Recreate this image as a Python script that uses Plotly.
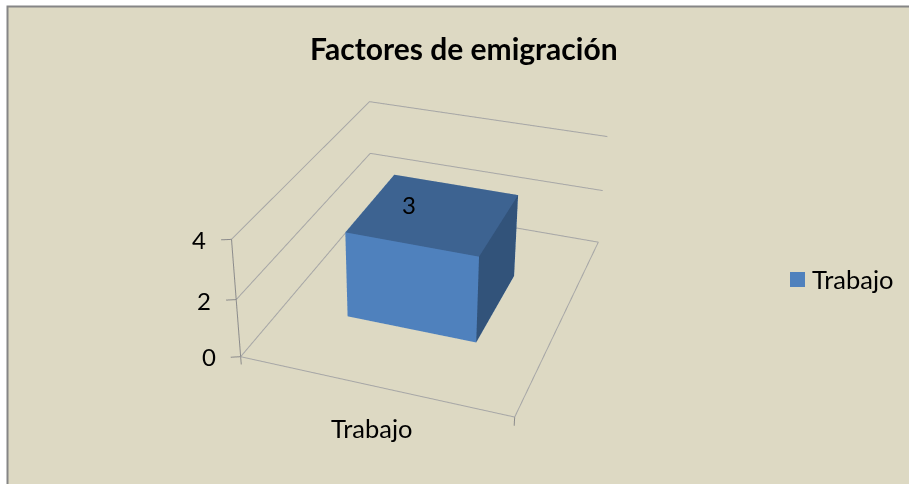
import plotly.graph_objects as go

TITLE = "Factores de emigración"
CATEGORIES = ["Trabajo"]
SERIES_NAME = "Trabajo"
VALUES = [3]
Z_TICKS = [0, 2, 4]
BAR_SPAN_X = [0.2525, 0.7510]
BAR_SPAN_Y = [0.2994, 0.6958]

WIN_W = 909
H = 1038
OFF = 282
PX = 406.0
LO = [-0.05, -0.05, -0.4]
HI = [1.05, 1.05, 4.05]


def X(px):
    return px / WIN_W


def Y(py):
    return 1 - (py + OFF) / H


x0, x1 = BAR_SPAN_X
y0, y1 = BAR_SPAN_Y
h = VALUES[0]
vx = [x0, x1, x1, x0, x0, x1, x1, x0]
vy = [y0, y0, y1, y1, y0, y0, y1, y1]
vz = [0, 0, 0, 0, h, h, h, h]
FRONT, RIGHT, TOP = "#4F81BD", "#32537A", "#3D6391"

fig = go.Figure()
fig.add_trace(go.Mesh3d(
    x=vx, y=vy, z=vz,
    i=[0, 0, 1, 1, 4, 4, 0, 0, 2, 2, 3, 3],
    j=[1, 5, 2, 6, 5, 6, 1, 2, 3, 7, 0, 4],
    k=[5, 4, 6, 5, 6, 7, 2, 3, 7, 6, 4, 7],
    facecolor=[FRONT, FRONT, RIGHT, RIGHT, TOP, TOP] + [FRONT] * 6,
    flatshading=True,
    lighting=dict(ambient=1, diffuse=0, specular=0, fresnel=0, roughness=1),
    name=SERIES_NAME, hoverinfo="skip"))

GRID = "#A6A6A6"
AXIS = "#8C8C8C"


def line(xs, ys, zs, col=GRID, w=2):
    fig.add_trace(go.Scatter3d(x=xs, y=ys, z=zs, mode="lines",
                               line=dict(color=col, width=w),
                               showlegend=False, hoverinfo="skip"))


for z in Z_TICKS:
    line([0, 0, 1], [0, 1, 1], [z, z, z])
line([0, 1, 1], [0, 0, 1], [0, 0, 0])
line([0, 0], [0, 0], [4, -0.28], AXIS, 2)
line([1, 1], [0, 0], [0, -0.3], AXIS, 2)
for z in Z_TICKS:
    line([0, -0.031], [0, -0.012], [z, z], AXIS, 2)

ann = [dict(text="<b>%s</b>" % TITLE, x=464, y=48, size=30),
       dict(text=str(VALUES[0]), x=409, y=204.5, size=24),
       dict(text=CATEGORIES[0], x=372, y=428, size=25.5),
       dict(text=SERIES_NAME, x=853, y=278.5, size=25.5)]
for t, yp, xp in zip(Z_TICKS, [356.5, 300, 239.5], [208.5, 203.5, 199]):
    ann.append(dict(text=str(t), x=xp, y=yp, size=24))
annotations = [dict(text=a["text"], x=X(a["x"]), y=Y(a["y"]), xref="paper", yref="paper",
                    showarrow=False, xanchor="center", yanchor="middle",
                    font=dict(family="Lato", size=a["size"], color="#000000")) for a in ann]

shapes = [dict(type="rect", xref="paper", yref="paper", x0=X(7.5), x1=X(930), y0=Y(6.5), y1=Y(520),
               line=dict(color="#868686", width=2), fillcolor="#DDD9C3", layer="below"),
          dict(type="rect", xref="paper", yref="paper", x0=X(790), x1=X(805), y0=Y(272), y1=Y(287),
               line=dict(width=0), fillcolor=FRONT, layer="below")]

fig.update_layout(
    width=WIN_W, height=H, margin=dict(l=0, r=0, t=0, b=0), paper_bgcolor="#FFFFFF",
    showlegend=False, annotations=annotations, shapes=shapes,
    scene=dict(
        domain=dict(x=[0, 2 * PX / WIN_W], y=[0, 1]),
        aspectmode="manual", aspectratio=dict(x=2.1112, y=2.6247, z=1.01136),
        xaxis=dict(visible=False, range=[LO[0], HI[0]]),
        yaxis=dict(visible=False, range=[LO[1], HI[1]]),
        zaxis=dict(visible=False, range=[LO[2], HI[2]]),
        camera=dict(eye=dict(x=2.5094, y=-7.3663, z=4.4207),
                    center=dict(x=-0.2323, y=0.0621, z=-0.0057),
                    up=dict(x=0.0028, y=0, z=1))))

js = ("document.body.style.margin='0';document.documentElement.style.overflow='hidden';"
      "document.body.style.overflow='hidden';document.documentElement.style.height='484px';"
      "document.body.style.height='484px';"
      "var g=document.getElementsByClassName('plotly-graph-div')[0];"
      "g.style.position='absolute';g.style.left='0';g.style.top='-%dpx';" % OFF)
fig.write_html("out.html", post_script=[js])
